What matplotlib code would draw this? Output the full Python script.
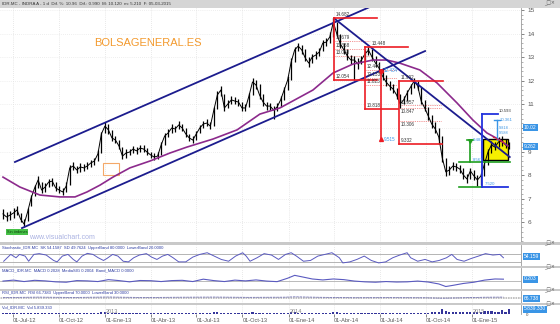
import datetime as dt
import numpy as np
import matplotlib
matplotlib.use('Agg')
import matplotlib.pyplot as plt
from matplotlib.patches import Rectangle
from matplotlib.ticker import MultipleLocator, FixedLocator
from matplotlib.transforms import blended_transform_factory

plt.rcParams['font.family'] = ['Liberation Sans', 'DejaVu Sans']

# ---------------- data (weekly bars, first bar on 2012-06-11) ----------------
first_bar = dt.date(2012, 6, 11)

close = [6.36, 6.23, 6.31, 6.40, 6.53, 6.14, 5.93, 6.44, 7.03, 7.46,
         7.80, 7.37, 7.50, 7.71, 7.75, 7.46, 7.37, 7.29, 7.54, 8.31,
         8.39, 8.22, 8.35, 8.31, 8.39, 8.52, 8.60, 8.90, 9.75, 10.08,
         9.92, 9.58, 9.49, 9.24, 8.81, 8.94, 8.98, 9.11, 9.03, 9.15,
         9.11, 8.98, 8.86, 8.77, 8.81, 9.28, 9.66, 9.79, 10.00, 9.96,
         10.13, 10.00, 9.75, 9.58, 9.49, 9.75, 10.00, 10.17, 10.21, 10.08,
         10.76, 11.40, 11.61, 10.85, 11.02, 11.19, 11.14, 11.10, 10.85, 10.85,
         11.36, 11.95, 11.82, 11.40, 11.10, 10.93, 10.93, 10.76, 10.89, 11.19,
         11.61, 12.03, 12.80, 13.31, 13.47, 13.31, 12.97, 12.75, 13.01, 13.09,
         13.22, 13.60, 13.64, 13.86, 14.49, 13.98, 13.56, 13.31, 13.05, 12.88,
         12.88, 12.71, 12.88, 13.14, 13.30, 13.01, 12.75, 12.54, 12.20, 11.95,
         11.78, 11.65, 11.40, 11.02, 11.19, 11.48, 11.74, 11.99, 11.78, 11.14,
         10.85, 10.51, 10.17, 9.96, 9.62, 8.73, 8.14, 8.22, 8.39, 8.35,
         8.26, 8.01, 7.84, 8.18, 7.97, 7.80, 7.97, 8.47, 8.98, 9.28,
         9.19, 9.41, 9.45, 9.28, 9.24]

high = [6.55, 6.45, 6.50, 6.62, 6.70, 6.40, 6.15, 6.60, 7.15, 7.60,
        7.95, 7.70, 7.65, 7.85, 7.90, 7.70, 7.55, 7.45, 7.70, 8.45,
        8.55, 8.40, 8.50, 8.48, 8.55, 8.65, 8.75, 9.05, 9.85, 10.25,
        10.15, 9.90, 9.65, 9.50, 9.20, 9.10, 9.12, 9.25, 9.20, 9.30,
        9.28, 9.15, 9.00, 8.92, 9.00, 9.40, 9.80, 9.95, 10.15, 10.10,
        10.28, 10.18, 10.00, 9.75, 9.65, 9.88, 10.12, 10.30, 10.38, 10.25,
        10.90, 11.55, 11.78, 11.45, 11.18, 11.35, 11.30, 11.25, 11.10, 11.00,
        11.50, 12.10, 12.05, 11.85, 11.45, 11.12, 11.08, 10.95, 11.05, 11.35,
        11.75, 12.20, 12.95, 13.45, 13.62, 13.50, 13.35, 13.00, 13.15, 13.25,
        13.38, 13.75, 13.80, 14.05, 14.68, 14.50, 14.00, 13.60, 13.35, 13.10,
        13.05, 12.95, 13.05, 13.30, 13.45, 13.35, 13.05, 12.80, 12.55, 12.25,
        11.98, 11.85, 11.70, 11.45, 11.35, 11.62, 11.88, 12.10, 12.00, 11.75,
        11.20, 10.90, 10.55, 10.25, 10.00, 9.65, 8.75, 8.40, 8.55, 8.50,
        8.45, 8.30, 8.05, 8.30, 8.22, 8.00, 8.10, 8.60, 9.10, 9.45,
        9.40, 9.60, 9.65, 9.55, 9.40]

low = [6.15, 6.05, 6.12, 6.20, 6.30, 6.00, 5.85, 6.05, 6.70, 7.10,
       7.45, 7.25, 7.30, 7.50, 7.55, 7.35, 7.25, 7.15, 7.30, 7.60,
       8.20, 8.10, 8.15, 8.18, 8.25, 8.35, 8.45, 8.60, 8.95, 9.80,
       9.75, 9.45, 9.35, 9.10, 8.70, 8.75, 8.85, 8.95, 8.90, 9.00,
       8.98, 8.85, 8.72, 8.65, 8.70, 8.85, 9.30, 9.60, 9.80, 9.82,
       9.95, 9.88, 9.62, 9.45, 9.35, 9.50, 9.78, 10.00, 10.08, 9.95,
       10.10, 10.80, 11.35, 10.70, 10.85, 11.00, 11.00, 10.95, 10.70, 10.72,
       10.90, 11.40, 11.65, 11.25, 10.95, 10.78, 10.75, 10.40, 10.70, 10.90,
       11.20, 11.60, 12.05, 12.80, 13.25, 13.15, 12.85, 12.60, 12.75, 12.92,
       13.05, 13.25, 13.48, 13.60, 13.85, 13.85, 13.40, 13.15, 12.90, 12.70,
       12.05, 12.50, 12.70, 12.90, 13.10, 12.85, 12.60, 12.40, 12.05, 11.80,
       11.62, 11.50, 11.25, 10.85, 11.00, 11.15, 11.45, 11.70, 11.62, 11.00,
       10.70, 10.35, 10.00, 9.80, 9.33, 8.55, 7.95, 8.00, 8.20, 8.18,
       8.10, 7.85, 7.65, 7.85, 7.80, 7.55, 7.60, 7.95, 8.45, 8.95,
       9.05, 9.20, 9.25, 9.15, 9.10]

volume_m = [1.2, 0.9, 1.1, 1.0, 1.3, 0.8, 1.5, 1.1, 1.4, 1.2,
            1.0, 0.9, 1.1, 1.3, 1.0, 0.8, 0.9, 1.2, 1.0, 1.6,
            1.4, 1.1, 0.9, 1.0, 1.2, 1.1, 1.3, 1.5, 2.4, 1.8,
            1.2, 1.0, 1.1, 0.9, 1.4, 1.0, 0.9, 0.8, 1.0, 1.1,
            0.9, 1.0, 1.2, 1.0, 0.9, 1.5, 1.3, 1.1, 1.0, 0.9,
            1.2, 1.0, 1.1, 1.3, 1.0, 0.9, 1.1, 1.2, 1.0, 0.9,
            2.0, 2.6, 1.5, 1.4, 1.1, 1.0, 1.2, 1.0, 0.9, 1.1,
            1.6, 1.8, 1.3, 1.2, 1.0, 0.9, 1.1, 1.0, 1.2, 1.1,
            1.4, 1.6, 2.2, 2.0, 1.5, 1.3, 1.2, 1.1, 1.0, 1.2,
            1.1, 1.3, 1.4, 1.2, 2.5, 1.8, 1.4, 1.3, 1.2, 1.1,
            1.6, 1.2, 1.0, 1.1, 1.3, 1.2, 1.1, 1.4, 1.5, 1.3,
            1.2, 1.2, 1.4, 1.5, 1.3, 1.2, 1.1, 1.3, 1.2, 1.4,
            1.5, 1.6, 1.8, 2.0, 2.2, 5.5, 3.8, 2.6, 2.4, 2.0,
            1.8, 2.6, 2.4, 2.0, 1.9, 2.2, 2.0, 3.0, 3.6, 2.8,
            2.4, 2.2, 4.2, 2.6, 5.8]

# moving average (purple), read at sparse weeks
ma_week = [0, 4.8, 10.5, 16.2, 20.5, 23.9, 27.6, 31.3, 36.1, 41.8, 47.5, 52.3,
           59.7, 66.6, 73.1, 78.8, 84.5, 88.2, 93.9, 99.6, 105.3, 109.2, 112.9,
           118.6, 123.5, 129.2, 133.7, 137.7, 141.4, 143.7]
ma_value = [7.92, 7.50, 7.16, 7.08, 7.08, 7.29, 7.58, 7.92, 8.31, 8.60, 8.94, 9.19,
            9.53, 9.92, 10.59, 10.85, 11.31, 11.61, 12.33, 12.71, 12.88, 12.88, 12.75,
            12.46, 11.91, 11.06, 10.34, 9.79, 9.49, 9.24]

stoch_week = [0.2, 2.2, 3.7, 4.7, 6.3, 7.3, 8.8, 10.3, 12.3, 14.4, 15.4, 16.9, 18.5,
              20.0, 21.0, 22.5, 24.0, 25.6, 27.1, 28.6, 29.6, 31.2, 32.7, 34.2, 35.7,
              37.2, 38.8, 40.8, 42.3, 43.8, 45.4, 46.9, 48.4, 50.0, 52.0, 54.0, 56.0,
              58.1, 60.1, 62.1, 64.2, 66.2, 68.2, 69.2, 70.3, 72.3, 74.3, 76.4, 78.4,
              80.4, 82.0, 83.5, 85.5, 87.5, 89.6, 91.6, 93.6, 95.7, 96.7, 98.7, 100.7,
              102.8, 104.8, 106.9, 108.9, 110.9, 112.9, 115.0, 116.0, 118.0, 120.1,
              122.1, 124.1, 126.2, 127.7, 129.2, 131.2, 133.3, 135.3, 137.3, 139.4,
              141.4, 142.4]
stoch_value = [27, 80, 54, 80, 67, 27, 80, 86, 75, 33, 22, 67, 80,
               41, 22, 67, 88, 80, 54, 33, 49, 80, 67, 27, 22,
               54, 75, 86, 59, 41, 67, 80, 54, 22, 22, 59, 80,
               93, 67, 41, 27, 67, 93, 67, 27, 54, 86, 75, 41,
               80, 93, 67, 27, 33, 67, 80, 93, 54, 14, 22, 41,
               67, 33, 14, 22, 54, 75, 93, 54, 27, 41,
               22, 33, 54, 80, 41, 27, 49, 67, 86, 75,
               80, 54]

macd_week = [0, 3, 6, 9, 12, 15, 18, 21, 24, 27, 30, 33, 36, 39, 42, 45, 48, 51,
             54, 57, 60, 63, 66, 69, 72, 75, 78, 81, 83, 85, 88, 91, 94, 97, 100,
             103, 106, 109, 112, 115, 118, 121, 124, 126, 128, 131, 134, 137, 140, 142.4]
macd_value = [0.00, 0.10, -0.05, 0.08, 0.02, -0.08, -0.12, 0.05, 0.02, -0.05,
              0.15, 0.05, -0.08, 0.06, 0.04, -0.05, 0.05, 0.08, -0.05, 0.20,
              0.05, -0.05, 0.10, 0.02, 0.12, 0.00, -0.06, 0.30, 0.60, 0.45,
              0.22, 0.12, 0.22, 0.15, 0.00, -0.08, -0.12, -0.05, -0.10, -0.08,
              0.00, -0.10, -0.30, -0.57, -0.45, -0.25, -0.12, 0.10, 0.22, 0.20]

rsi_week = [0, 10, 20, 30, 40, 50, 60, 70, 80, 83, 90, 100, 110, 120, 125, 130, 137, 142.4]
rsi_value = [45, 65, 50, 70, 48, 60, 68, 55, 62, 78, 58, 40, 45, 38, 20, 35, 60, 66.7]

quarter_dates = [dt.date(2012, 7, 1), dt.date(2012, 10, 1), dt.date(2013, 1, 1),
                 dt.date(2013, 4, 1), dt.date(2013, 7, 1), dt.date(2013, 10, 1),
                 dt.date(2014, 1, 1), dt.date(2014, 4, 1), dt.date(2014, 7, 1),
                 dt.date(2014, 10, 1), dt.date(2015, 1, 1)]
quarter_labels = ['01-Jul-12', '01-Oct-12', '01-Ene-13', '01-Abr-13', '01-Jul-13',
                  '01-Oct-13', '01-Ene-14', '01-Abr-14', '01-Jul-14', '01-Oct-14',
                  '01-Ene-15']
year_dates = [dt.date(2013, 1, 1), dt.date(2014, 1, 1), dt.date(2015, 1, 1)]
year_labels = ['2013', '2014', '2015']
price_ticks = [6, 7, 8, 9, 10, 11, 12, 13, 14, 15]
price_tick_labels = ['6', '7', '8', '9', '', '11', '12', '13', '14', '15']

# ---------------- figure ----------------
W, H = 560.0, 324.0
fig = plt.figure(figsize=(5.6, 3.24), dpi=100)
fig.patch.set_facecolor('white')


def wk(d):
    return (d - first_bar).days / 7.0


def axes_px(x0, y0, x1, y1):
    return fig.add_axes([x0 / W, 1 - y1 / H, (x1 - x0) / W, (y1 - y0) / H])


def frect(x0, y0, x1, y1, color):
    fig.patches.append(Rectangle((x0 / W, 1 - y1 / H), (x1 - x0) / W, (y1 - y0) / H,
                                 transform=fig.transFigure, facecolor=color,
                                 edgecolor='none', zorder=0))


weeks = np.arange(len(close))
qpos = [wk(d) for d in quarter_dates]
XL = (-0.85, 147.4)
NAVY = '#1c1c8e'
RED = '#ec1c24'
PURPLE = '#8c2a8c'
LBLUE = '#3a95e6'
GREEN = '#1f9e1f'
IND = '#5a5ac0'


def style_panel(ax):
    ax.set_xlim(*XL)
    for s in ('left', 'top', 'bottom'):
        ax.spines[s].set_visible(False)
    ax.spines['right'].set_color('#9a9a9a')
    ax.spines['right'].set_linewidth(0.6)
    ax.set_xticks(qpos)
    ax.tick_params(axis='x', length=0, labelbottom=False)
    ax.grid(True, axis='x', color='#d4d4d4', ls=(0, (1, 2)), lw=0.5)
    ax.yaxis.tick_right()


# gray bars / separators
frect(0, 0, 560, 7.5, '#d5d5d5')
for y0, y1 in [(242, 245), (266, 268), (289, 291), (303, 305)]:
    frect(0, y0, 560, y1, '#c9c9c9')

# ---------------- main price panel ----------------
main = axes_px(0, 8, 521, 242)
style_panel(main)
main.set_ylim(5.17, 15.085)
main.yaxis.set_major_locator(FixedLocator(price_ticks))
main.set_yticklabels(price_tick_labels)
main.yaxis.set_minor_locator(MultipleLocator(0.2))
main.tick_params(axis='y', which='major', length=2.5, width=0.5, labelsize=4.6,
                 colors='#555555', pad=2)
main.tick_params(axis='y', which='minor', length=1.2, width=0.4, colors='#777777')
main.grid(True, axis='y', color='#e0e0e0', ls=(0, (1, 2)), lw=0.5)

# orange box
main.add_patch(Rectangle((28.4, 8.01), 4.6, 0.51, facecolor='none',
                         edgecolor='#f4a868', lw=0.8, zorder=2))

# yellow box
main.add_patch(Rectangle((136.5, 8.64), 7.2, 0.89, facecolor='#f6f000',
                         edgecolor='black', lw=1.0, zorder=2))

# price bars
main.vlines(weeks, low, high, color='black', lw=0.9, zorder=4)
main.plot(weeks, close, color='black', lw=0.7, zorder=4)

# moving average
main.plot(ma_week, ma_value, color=PURPLE, lw=1.2, zorder=5)

# trend channel / trend lines
main.plot([3.4, 104.4], [8.56, 15.13], color=NAVY, lw=1.3, zorder=6)
main.plot([5.4, 120.1], [5.76, 13.26], color=NAVY, lw=1.3, zorder=6)
main.plot([94.2, 144.2], [14.65, 8.77], color=NAVY, lw=1.3, zorder=6)

# red boxes (retracements)
lab = dict(fontsize=3.3, color='#333333', zorder=9)
dot = dict(color='#f07070', lw=0.6, ls=(0, (1, 1.2)), zorder=3)
# box 1
main.plot([94.2, 106.4], [14.682, 14.682], color=RED, lw=1.2, zorder=7)
main.plot([94.2, 94.2], [14.682, 12.054], color=RED, lw=1.2, zorder=7)
main.plot([94.2, 106.4], [12.054, 12.054], color=RED, lw=1.2, zorder=7)
for lv, t in [(13.679, '13.679'), (13.368, '13.368'), (13.058, '13.058')]:
    main.plot([94.4, 104.5], [lv, lv], **dot)
    main.text(94.8, lv + 0.04, t, va='bottom', **lab)
main.text(94.8, 14.72, '14.682', va='bottom', **lab)
main.text(94.8, 12.09, '12.054', va='bottom', **lab)
# box 2
main.plot([103.0, 115.2], [13.448, 13.448], color=RED, lw=1.2, zorder=7)
main.plot([103.0, 103.0], [13.448, 10.818], color=RED, lw=1.2, zorder=7)
main.plot([103.0, 112.4], [10.818, 10.818], color=RED, lw=1.2, zorder=7)
for lv, t in [(12.443, '12.443'), (12.133, '12.133'), (11.823, '11.823')]:
    main.plot([103.2, 112.0], [lv, lv], **dot)
    main.text(103.5, lv + 0.04, t, va='bottom', **lab)
main.text(105.0, 13.49, '13.448', va='bottom', **lab)
main.text(103.5, 10.86, '10.818', va='bottom', **lab)
# stop line
main.plot([107.5, 107.5], [12.434, 9.515], color=RED, lw=1.2, zorder=7)
main.plot([107.5], [12.434], marker='o', ms=2.6, color=RED, zorder=8)
main.plot([107.5], [9.515], marker='^', ms=2.8, color=RED, zorder=8)
main.text(108.4, 12.434, '12.434', va='center', fontsize=3.3, color=LBLUE, zorder=9)
main.text(108.4, 9.515, '9.515', va='center', fontsize=3.3, color=LBLUE, zorder=9)
# box 4
main.plot([112.7, 125.2], [11.99, 11.99], color=RED, lw=1.2, zorder=7)
main.plot([112.7, 112.7], [11.99, 9.332], color=RED, lw=1.2, zorder=7)
main.plot([112.7, 124.9], [9.332, 9.332], color=RED, lw=1.2, zorder=7)
main.plot([113.0, 124.5], [10.957, 10.957], **dot)
main.text(113.3, 10.99, '10.957', va='bottom', **lab)
main.plot([113.0, 124.5], [10.847, 10.847], **dot)
main.text(113.3, 10.81, '10.847', va='top', **lab)
main.plot([113.0, 124.5], [10.306, 10.306], **dot)
main.text(113.3, 10.27, '10.306', va='top', **lab)
main.text(113.3, 12.03, '11.992', va='bottom', **lab)
main.text(113.3, 9.37, '9.332', va='bottom', **lab)

# green (entry) marks
main.plot([129.7, 136.3], [7.52, 7.52], color=GREEN, lw=1.2, zorder=7)
main.plot([129.7, 144.2], [8.56, 8.56], color=GREEN, lw=1.2, zorder=7)
main.plot([132.9, 132.9], [9.48, 8.56], color=GREEN, lw=1.2, zorder=7)
main.plot([132.1, 133.7], [9.48, 9.48], color=GREEN, lw=1.2, zorder=7)
main.plot([132.9], [9.45], marker='v', ms=2.6, color=GREEN, zorder=8)
main.text(133.6, 9.48, '9.483', va='center', fontsize=3.1, color=LBLUE, zorder=9)
main.text(133.6, 8.63, '8.561', va='center', fontsize=3.1, color=LBLUE, zorder=9)

# blue bracket
main.plot([136.3, 136.3], [10.593, 7.52], color='#2233dd', lw=1.3, zorder=7)
main.plot([136.3, 140.8], [10.593, 10.593], color='#2233dd', lw=1.3, zorder=7)
main.plot([136.3, 143.7], [7.52, 7.52], color='#2233dd', lw=1.3, zorder=7)
main.plot([140.5, 140.5], [10.34, 9.49], color=LBLUE, lw=1.0, zorder=7)
main.plot([139.6, 141.4], [10.34, 10.34], color=LBLUE, lw=1.0, zorder=7)
main.plot([139.4, 142.8], [9.62, 9.36], color=RED, lw=0.8, ls=(0, (2, 1)), zorder=7)
main.text(140.9, 10.62, '10.593', va='bottom', fontsize=3.1, color='#333333', zorder=9)
main.text(141.4, 10.36, '10.361', va='center', fontsize=3.1, color=LBLUE, zorder=9)
main.text(141.2, 9.98, '9.818', va='center', fontsize=2.8, color=LBLUE, zorder=9)
main.text(141.2, 9.77, '9.588', va='center', fontsize=2.8, color=LBLUE, zorder=9)
main.text(137.0, 7.56, '7.520', va='bottom', fontsize=3.1, color=LBLUE, zorder=9)

# watermark texts
main.text(0.284, 0.85, 'BOLSAGENERAL.ES', transform=main.transAxes, ha='center',
          va='center', fontsize=8, color='#f39a2e', zorder=9)
main.text(0.119, 0.02, 'www.visualchart.com', transform=main.transAxes, ha='center',
          va='center', fontsize=5, color='#aab2e2', zorder=9)
main.text(1.0, 5.58, 'Sin órdenes', ha='left', va='center', fontsize=2.8,
          color='#0b3d0b', zorder=9,
          bbox=dict(boxstyle='square,pad=0.25', facecolor='#46c046', edgecolor='none'))

# ---------------- stochastic ----------------
st = axes_px(0, 245, 521, 266)
style_panel(st)
st.set_ylim(-10, 153)
st.set_yticks([])
st.axhline(80, color='#a8a8a8', lw=0.6)
st.axhline(20, color='#a8a8a8', lw=0.6)
st.plot(stoch_week, stoch_value, color=IND, lw=0.7)

# ---------------- MACD ----------------
mc = axes_px(0, 268, 521, 289)
style_panel(mc)
mc.set_ylim(-0.83, 1.37)
mc.set_yticks([])
mc.axhline(0, color='#b0b0b0', lw=0.6)
mc.plot(macd_week, macd_value, color=IND, lw=0.8)

# ---------------- RSI ----------------
rs = axes_px(0, 291, 521, 303)
style_panel(rs)
rs.set_ylim(-180, 320)
rs.set_yticks([])
rs.axhline(70, color='#b8b8b8', lw=0.6, ls=(0, (2, 1)))
rs.axhline(30, color='#b8b8b8', lw=0.6, ls=(0, (2, 1)))
rs.plot(rsi_week, rsi_value, color='#7b7bb8', lw=0.6, ls=(0, (3, 1)))

# ---------------- volume ----------------
vo = axes_px(0, 305, 521, 314)
style_panel(vo)
vo.set_ylim(0, 10)
vo.set_yticks([])
vo.bar(weeks, volume_m, width=0.6, color='#34349a')
ytr = blended_transform_factory(vo.transData, vo.transAxes)
for d, t in zip(year_dates, year_labels):
    vo.text(wk(d) + 0.2, 0.05, t, transform=ytr, fontsize=4, color='#888888',
            va='bottom', ha='left')
vo.set_xticks(qpos)
vo.set_xticklabels(quarter_labels)
vo.tick_params(axis='x', length=1.8, width=0.5, labelbottom=True, labelsize=4.1,
               pad=0.8, colors='#555555')
for t in vo.get_xticklabels():
    t.set_ha('left')

# ---------------- titles ----------------
def two_color(x, y, t1, t2, c1, fs):
    a = fig.text(x / W, 1 - y / H, t1, color=c1, fontsize=fs, va='center', ha='left')
    main.annotate(t2, xy=(1, 0.5), xycoords=a, xytext=(1, 0), textcoords='offset points',
                  va='center', ha='left', fontsize=fs, color=RED)


two_color(2, 3.8, 'IDR.MC - INDRA A - 1 d  Dif. %: 10.96  Dif.: 0.990  M: 10.120  m: 5.210  F: 05-03-2015',
          'P : 13.498', '#333333', 3.2)
two_color(2, 247.5, 'Stochastic_IDR.MC  SK 54.1587  SD 49.7624  UpperBand 80.0000  LowerBand 20.0000',
          'P: 1.740.6250', '#2b3aa0', 3.0)
two_color(2, 270.5, 'MACD_IDR.MC  MACD 0.2028  MediaSIG 0.2004  Band_MACD 0.0000',
          'P: 24.1184', '#2b3aa0', 3.0)
two_color(2, 293.0, 'RSI_IDR.MC  RSI 66.7383  UpperBand 70.0000  LowerBand 30.0000',
          'P: 6.470.0000', '#2b3aa0', 3.0)
two_color(2, 307.0, 'Vol_IDR.MC  Vol 5.839.330',
          'P: 275.185.865', '#2b3aa0', 3.0)

# window icons (in the separator bars)
for y in [3.8, 243.6, 267.0, 290.0, 304.0]:
    fig.text(544 / W, 1 - y / H, '_□×', fontsize=3.4, color='#555555', va='center',
             family=['DejaVu Sans'])

# value boxes on the right
box = dict(boxstyle='square,pad=0.2', facecolor='#3a95e6', edgecolor='none')
for y, t in [(127.7, '10.02'), (146.0, '9.262'), (256.5, '54.159'), (279.0, '0.203'),
             (298.0, '66.738'), (309.0, '5.839.330')]:
    fig.text(524 / W, 1 - y / H, t, fontsize=3.6, color='white', va='center', ha='left',
             bbox=box)
fig.text(526 / W, 1 - 314.5 / H, '0', fontsize=3.2, color='#444444', va='center')

fig.savefig('out.png', dpi=100, facecolor='white')
